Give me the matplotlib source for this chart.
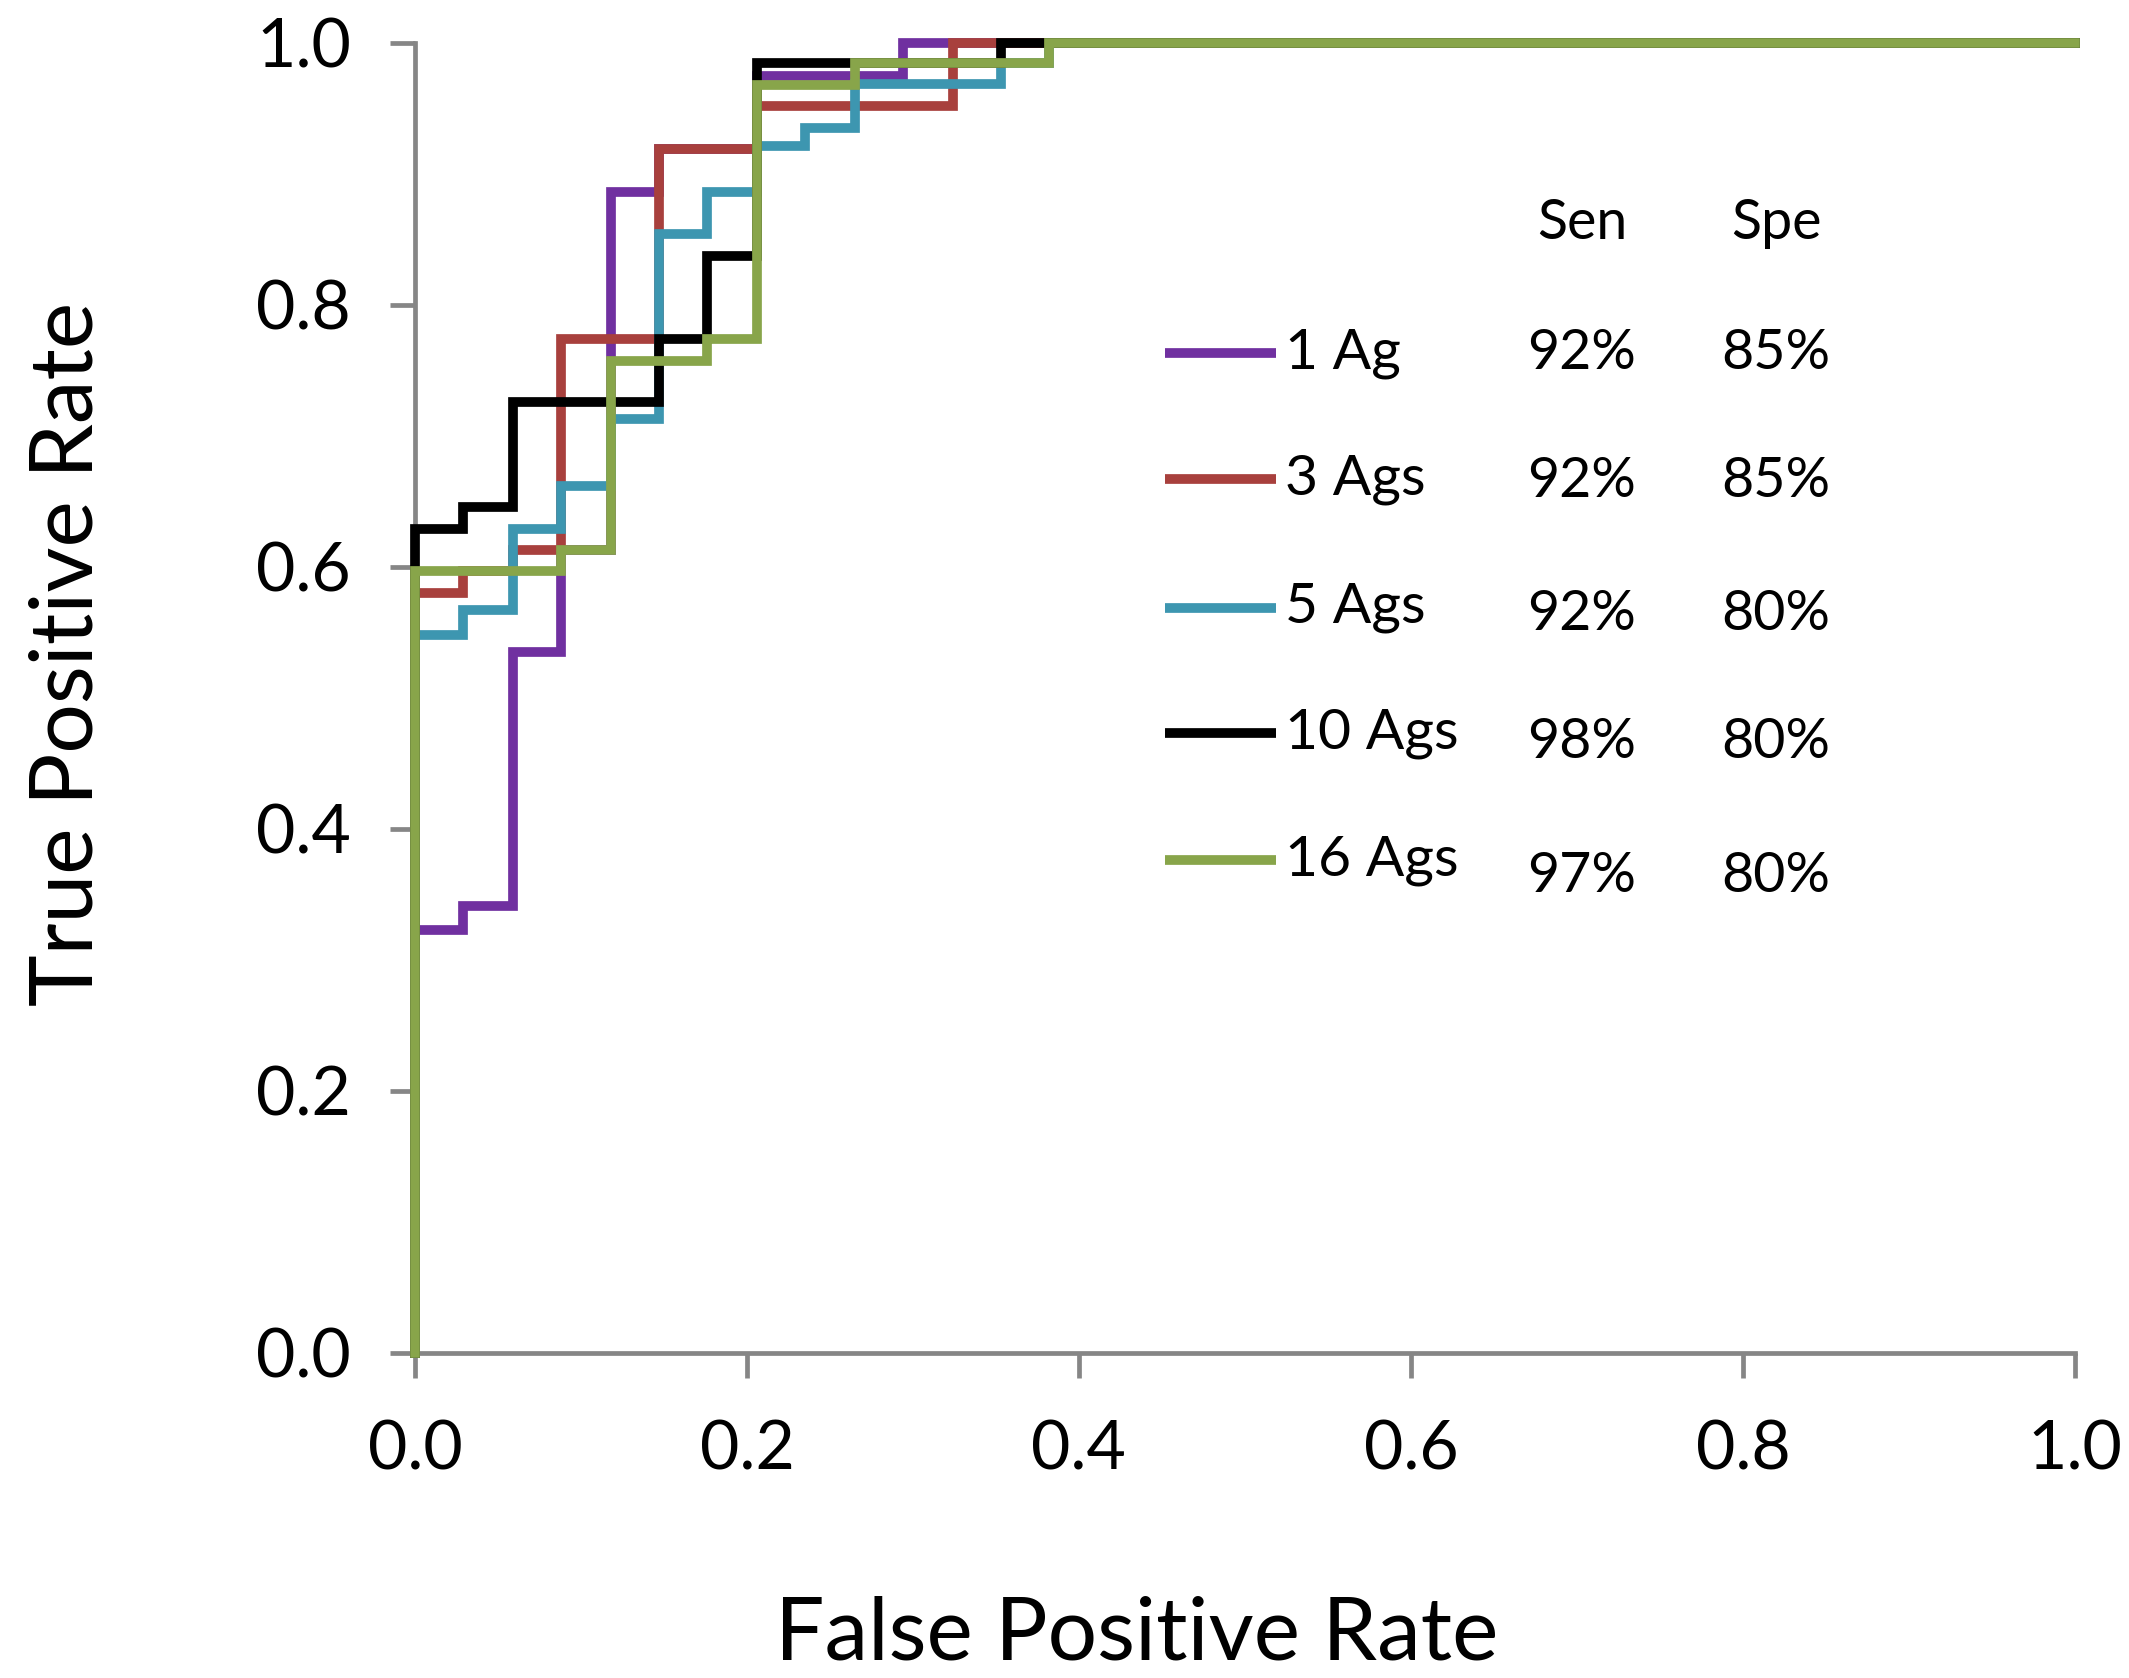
import matplotlib
matplotlib.use("Agg")
import matplotlib.pyplot as plt
import numpy as np

plt.rcParams['font.family'] = ['Lato', 'DejaVu Sans']

# ROC curve corner points (fpr, tpr), drawn as post steps
series_names = ["1 Ag", "3 Ags", "5 Ags", "10 Ags", "16 Ags"]
series_colors = ["#7030A0", "#A8403D", "#3D96B0", "#000000", "#88A54A"]

fpr_1ag = [0, 0, 0.029, 0.059, 0.088, 0.118, 0.147, 0.206, 0.294, 1.0]
tpr_1ag = [0, 0.323, 0.341, 0.535, 0.613, 0.886, 0.919, 0.975, 1.0, 1.0]

fpr_3ags = [0, 0, 0.029, 0.059, 0.088, 0.147, 0.206, 0.324, 1.0]
tpr_3ags = [0, 0.580, 0.597, 0.613, 0.774, 0.919, 0.952, 1.0, 1.0]

fpr_5ags = [0, 0, 0.029, 0.059, 0.088, 0.118, 0.147, 0.176, 0.206, 0.235,
            0.265, 0.353, 0.382, 1.0]
tpr_5ags = [0, 0.548, 0.567, 0.629, 0.662, 0.713, 0.854, 0.886, 0.921, 0.935,
            0.969, 0.985, 1.0, 1.0]

fpr_10ags = [0, 0, 0.029, 0.059, 0.147, 0.176, 0.206, 0.353, 1.0]
tpr_10ags = [0, 0.629, 0.646, 0.726, 0.774, 0.837, 0.985, 1.0, 1.0]

fpr_16ags = [0, 0, 0.088, 0.118, 0.176, 0.206, 0.265, 0.382, 1.0]
tpr_16ags = [0, 0.597, 0.613, 0.757, 0.774, 0.968, 0.985, 1.0, 1.0]

sen = ["92%", "92%", "92%", "98%", "97%"]
spe = ["85%", "85%", "80%", "80%", "80%"]

all_fpr = [fpr_1ag, fpr_3ags, fpr_5ags, fpr_10ags, fpr_16ags]
all_tpr = [tpr_1ag, tpr_3ags, tpr_5ags, tpr_10ags, tpr_16ags]

fig = plt.figure(figsize=(21.29, 16.78), dpi=100)
ax = fig.add_axes([0.1949, 0.1937, 0.7797, 0.7807])

for fpr, tpr, col in zip(all_fpr, all_tpr, series_colors):
    ax.plot(fpr, tpr, drawstyle="steps-post", color=col, lw=7,
            solid_joinstyle="miter", clip_on=False, zorder=3)

ax.set_xlim(0, 1)
ax.set_ylim(0, 1)
ticks = np.arange(0, 1.01, 0.2)
ax.set_xticks(ticks)
ax.set_yticks(ticks)
ax.set_xticklabels(["%.1f" % t for t in ticks])
ax.set_yticklabels(["%.1f" % t for t in ticks])

for s in ["top", "right"]:
    ax.spines[s].set_visible(False)
for s in ["left", "bottom"]:
    ax.spines[s].set_color("#868686")
    ax.spines[s].set_linewidth(3.4)
ax.tick_params(axis="both", direction="out", length=18, width=3.4,
               color="#868686", labelsize=49, labelcolor="black")
ax.tick_params(axis="x", pad=30)
ax.tick_params(axis="y", pad=28)

# axis titles
fig.text(0.534, 0.002, "False Positive Rate", fontsize=63,
         ha="center", va="bottom")
fig.text(0.032, 0.61, "True Positive Rate", fontsize=63,
         ha="center", va="center", rotation=90)

# legend with sensitivity / specificity table
row_y = [0.763, 0.667, 0.569, 0.473, 0.376]
val_y = [0.763, 0.665, 0.564, 0.466, 0.364]
ax.text(0.703, 0.862, "Sen", fontsize=40, ha="center", va="center")
ax.text(0.820, 0.862, "Spe", fontsize=40, ha="center", va="center")
for i, name in enumerate(series_names):
    ax.plot([0.452, 0.519], [row_y[i], row_y[i]], color=series_colors[i],
            lw=7, transform=ax.transAxes, solid_capstyle="butt")
    ax.text(0.524, row_y[i], name, fontsize=41, ha="left", va="center",
            transform=ax.transAxes)
    ax.text(0.703, val_y[i], sen[i], fontsize=40, ha="center", va="center",
            transform=ax.transAxes)
    ax.text(0.820, val_y[i], spe[i], fontsize=40, ha="center", va="center",
            transform=ax.transAxes)

fig.savefig("out.png", dpi=100)
